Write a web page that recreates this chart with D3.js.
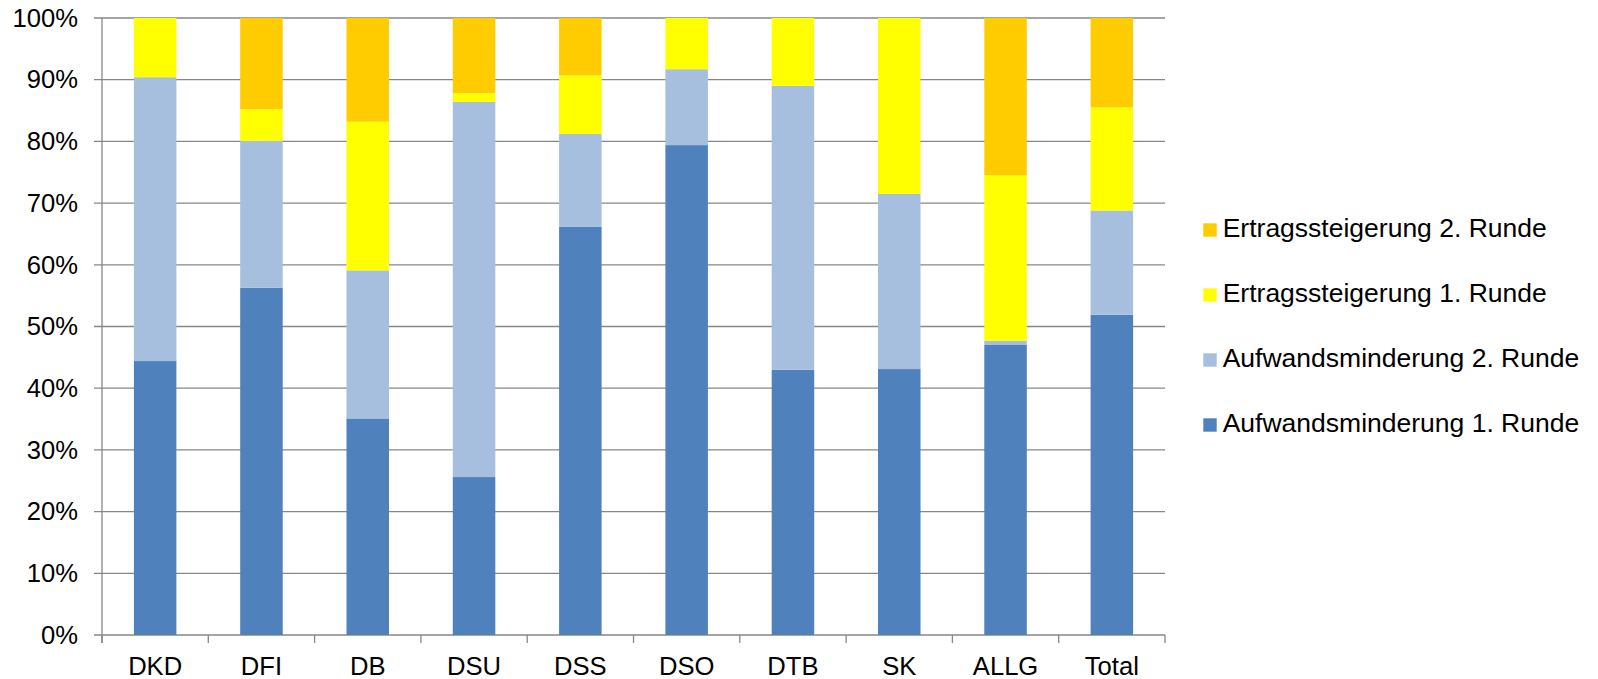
<!DOCTYPE html>
<html>
<head>
<meta charset="utf-8">
<script src="https://cdn.jsdelivr.net/npm/d3@7"></script>
<style>
  html, body { margin: 0; padding: 0; background: #ffffff; }
  svg { display: block; font-family: "Liberation Sans", Arial, sans-serif; }
</style>
</head>
<body>
<svg id="chart" width="1598" height="679"></svg>
<script>
// Share of savings per unit, by measure and round (percent)
const categories = ["DKD", "DFI", "DB", "DSU", "DSS", "DSO", "DTB", "SK", "ALLG", "Total"];
const aufwand1 = [44.4, 56.3, 35.1, 25.6, 66.2, 79.4, 43.0, 43.1, 47.0, 51.9];
const aufwand2 = [46.0, 23.8, 24.0, 60.8, 15.0, 12.3, 46.0, 28.4, 0.7, 16.9];
const ertrag1  = [9.6, 5.1, 24.1, 1.4, 9.5, 8.3, 11.0, 28.5, 26.8, 16.7];
const ertrag2  = [0.0, 14.8, 16.8, 12.2, 9.3, 0.0, 0.0, 0.0, 25.5, 14.5];
const seriesNames = [
  "Aufwandsminderung 1. Runde",
  "Aufwandsminderung 2. Runde",
  "Ertragssteigerung 1. Runde",
  "Ertragssteigerung 2. Runde"
];
const seriesColors = ["#4f81bd", "#a7bfde", "#ffff00", "#ffcc00"];
const yTicks = [0, 0.1, 0.2, 0.3, 0.4, 0.5, 0.6, 0.7, 0.8, 0.9, 1.0];

const seriesValues = [aufwand1, aufwand2, ertrag1, ertrag2];
const rows = categories.map((c, i) => {
  const r = { cat: c };
  seriesNames.forEach((s, k) => { r[s] = seriesValues[k][i]; });
  return r;
});

const stacked = d3.stack()
  .keys(seriesNames)
  .offset(d3.stackOffsetExpand)(rows);

const svg = d3.select("#chart");
const plotLeft = 102, plotRight = 1165, plotTop = 18, plotBottom = 635;
const axisFont = 25.6, legendFont = 26.5;

const x = d3.scaleBand()
  .domain(categories)
  .range([plotLeft, plotRight])
  .paddingInner(0.6)
  .paddingOuter(0.3);

const y = d3.scaleLinear().domain([0, 1]).range([plotBottom, plotTop]);

const gridColor = "#878787";

// horizontal gridlines (extend left as tick marks)
svg.append("g")
  .selectAll("line")
  .data(yTicks)
  .join("line")
  .attr("x1", plotLeft - 8)
  .attr("x2", plotRight)
  .attr("y1", d => y(d))
  .attr("y2", d => y(d))
  .attr("stroke", gridColor)
  .attr("stroke-width", 1.3);

// y axis labels
const yAxis = d3.axisLeft(y)
  .tickValues(yTicks)
  .tickFormat(d3.format(".0%"))
  .tickSize(0)
  .tickPadding(24);
const gy = svg.append("g").attr("transform", `translate(${plotLeft},0)`).call(yAxis);
gy.select(".domain").remove();
gy.selectAll("text")
  .attr("font-size", axisFont)
  .attr("fill", "#000")
  .attr("font-family", "Liberation Sans, Arial, sans-serif");

// stacked bars
svg.append("g")
  .selectAll("g")
  .data(stacked)
  .join("g")
  .attr("fill", (d, i) => seriesColors[i])
  .selectAll("rect")
  .data(d => d)
  .join("rect")
  .attr("x", d => x(d.data.cat))
  .attr("width", x.bandwidth())
  .attr("y", d => y(d[1]))
  .attr("height", d => Math.max(0, y(d[0]) - y(d[1])));

// vertical axis line
svg.append("line")
  .attr("x1", plotLeft).attr("x2", plotLeft)
  .attr("y1", plotTop).attr("y2", plotBottom + 8)
  .attr("stroke", gridColor).attr("stroke-width", 1.3);

// category boundary ticks
const step = x.step();
const boundaries = d3.range(categories.length + 1).map(i => plotLeft + i * step);
svg.append("g")
  .selectAll("line")
  .data(boundaries)
  .join("line")
  .attr("x1", d => d).attr("x2", d => d)
  .attr("y1", plotBottom).attr("y2", plotBottom + 8)
  .attr("stroke", gridColor).attr("stroke-width", 1.3);

// x axis labels
const xAxis = d3.axisBottom(x).tickSize(0).tickPadding(22);
const gx = svg.append("g").attr("transform", `translate(0,${plotBottom})`).call(xAxis);
gx.select(".domain").remove();
gx.selectAll("text")
  .attr("font-size", axisFont)
  .attr("fill", "#000")
  .attr("font-family", "Liberation Sans, Arial, sans-serif");

// legend (top series first)
const legendItems = seriesNames.map((s, i) => ({ name: s, color: seriesColors[i] })).reverse();
const legendY = d3.scalePoint().domain(legendItems.map(d => d.name)).range([230, 425]);
const lg = svg.append("g")
  .selectAll("g")
  .data(legendItems)
  .join("g")
  .attr("transform", d => `translate(1203.3,${legendY(d.name)})`);
lg.append("rect")
  .attr("x", 0).attr("y", -6.7)
  .attr("width", 13.4).attr("height", 13.4)
  .attr("fill", d => d.color);
lg.append("text")
  .attr("x", 19.4).attr("y", 7.4)
  .attr("font-size", legendFont)
  .attr("fill", "#000")
  .text(d => d.name);
</script>
</body>
</html>
